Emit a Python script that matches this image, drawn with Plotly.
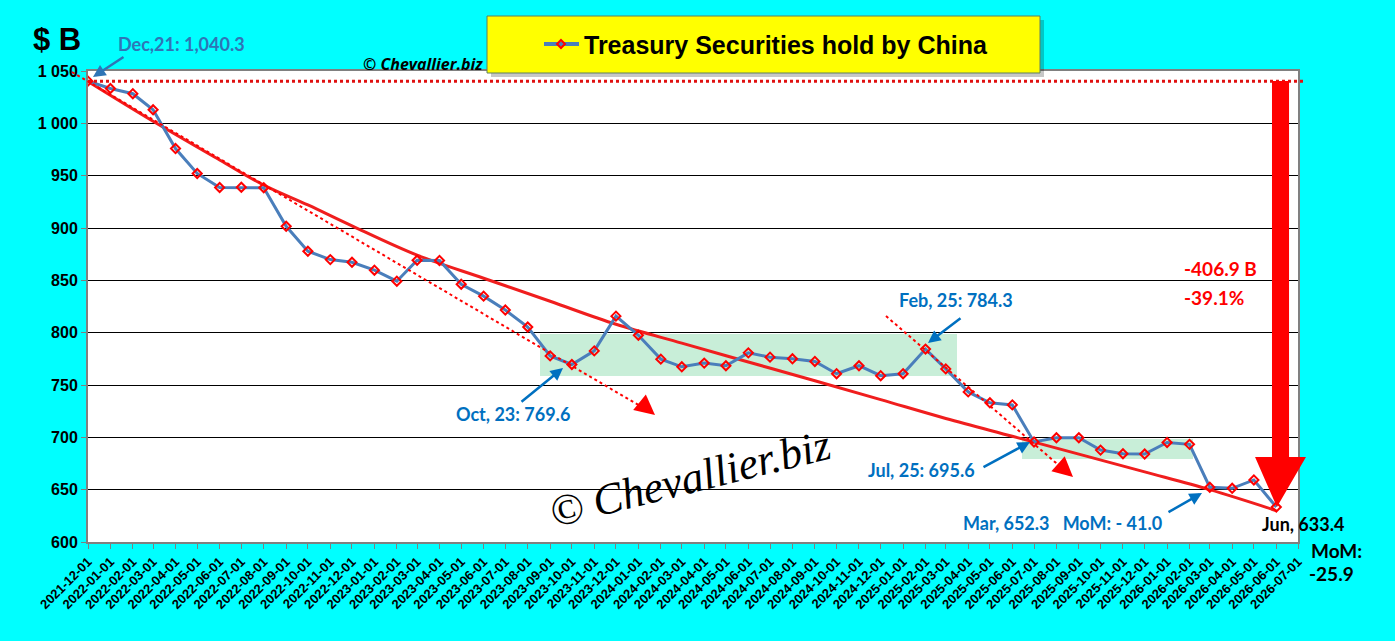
import numpy as np
import pandas as pd
import plotly.graph_objects as go

# --- data ($ B, month start) ---
MONTHS = pd.date_range("2021-12-01", "2026-06-01", freq="MS").strftime("%Y-%m-%d").tolist()
TICK_MONTHS = pd.date_range("2021-12-01", "2026-07-01", freq="MS").strftime("%Y-%m-%d").tolist()
HOLDINGS = [
    1040.3, 1033.3, 1028.3, 1013.0, 975.9, 952.1, 938.7, 938.9, 938.5, 901.6,
    877.8, 869.8, 867.3, 859.7, 849.2, 869.2, 869.0, 846.3, 834.9, 821.6,
    805.4, 777.8, 769.6, 782.6, 815.8, 797.5, 774.7, 767.4, 770.9, 768.4,
    780.7, 776.6, 775.0, 772.5, 760.8, 768.4, 758.9, 760.8, 784.3, 765.4,
    743.4, 733.0, 731.0, 695.6, 699.6, 699.6, 687.8, 684.3, 684.0, 695.1,
    693.3, 652.3, 651.3, 659.3, 633.4,
]
# hand-drawn trend curve
TREND_MONTHS = [
    "2021-12-01", "2022-03-01", "2022-06-01", "2022-08-01", "2022-10-01",
    "2022-12-01", "2023-03-01", "2023-06-01", "2023-09-01", "2023-12-01",
    "2024-03-01", "2024-06-01", "2024-09-01", "2024-12-01", "2025-03-01",
    "2025-06-01", "2025-09-01", "2025-12-01", "2026-03-01", "2026-06-01",
]
TREND_VALUES = [1040, 1002, 965, 941, 922, 902, 874, 852, 830, 808,
                790, 772, 754, 736, 718, 701, 684, 667, 650, 630]
Y_TICKS = [600, 650, 700, 750, 800, 850, 900, 950, 1000, 1050]
Y_LABELS = ["600", "650", "700", "750", "800", "850", "900", "950", "1 000", "1 050"]

SERIES_NAME = "Treasury Securities hold by China"
LINE_BLUE = "#4A7EBB"
LABEL_BLUE = "#0070C0"
RED = "#FF0000"

# plot box on the 1395x641 canvas
W, H = 1395, 641
L, R, T, B = 88, 1298, 71, 542


def px(x):
    return (x - L) / (R - L)


def py(y):
    return (B - y) / (B - T)


def path(points):
    return "M " + " L ".join(f"{px(x):.4f},{py(y):.4f}" for x, y in points) + " Z"


def label(text, x, y, color, size=18, family="Lato", style="normal", anchor="center", **kw):
    return dict(text=text, x=px(x), y=py(y), xref="paper", yref="paper",
                showarrow=False, xanchor=anchor, yanchor="middle",
                font=dict(family=family, size=size, color=color, weight="bold", style=style), **kw)


def arrow(x0, y0, x1, y1, color, width=2.5, size=1.0):
    return dict(text="", x=px(x1), y=py(y1), xref="paper", yref="paper",
                ax=x0 - x1, ay=y0 - y1, axref="pixel", ayref="pixel",
                showarrow=True, arrowhead=2, arrowsize=size, arrowwidth=width,
                arrowcolor=color)


fig = go.Figure()

fig.add_trace(go.Scatter(
    x=TREND_MONTHS, y=TREND_VALUES, mode="lines", line_shape="spline",
    line=dict(color="#F01E1E", width=3), showlegend=False, hoverinfo="skip"))

fig.add_trace(go.Scatter(
    x=MONTHS, y=HOLDINGS, mode="lines+markers", name=SERIES_NAME,
    line=dict(color=LINE_BLUE, width=3), showlegend=False,
    marker=dict(symbol="diamond-open", size=7, color=RED, line=dict(width=2))))

shapes = [
    # consolidation zones
    dict(type="rect", xref="paper", yref="paper", layer="below",
         x0=px(540), x1=px(957), y0=py(376), y1=py(334),
         fillcolor="#C8EED8", line_width=0),
    dict(type="rect", xref="paper", yref="paper", layer="below",
         x0=px(1022), x1=px(1193), y0=py(459), y1=py(439),
         fillcolor="#C8EED8", line_width=0),
    # reference level at the Dec-21 value
    dict(type="line", xref="paper", yref="y", x0=0, x1=px(1306),
         y0=HOLDINGS[0], y1=HOLDINGS[0], line=dict(color="#E01010", width=3, dash="dot")),
    # dotted trend arrows
    dict(type="line", xref="paper", yref="paper", x0=px(72), y0=py(72), x1=px(652), y1=py(413),
         line=dict(color=RED, width=2, dash="dot")),
    dict(type="line", xref="paper", yref="paper", x0=px(886), y0=py(316), x1=px(1070), y1=py(475),
         line=dict(color=RED, width=2, dash="dot")),
    # big red drop arrow
    dict(type="path", xref="paper", yref="paper", fillcolor=RED, line_width=0,
         path=path([(1272, 81), (1289, 81), (1289, 457), (1306, 457),
                    (1277, 507), (1255, 457), (1272, 457)])),
    # title box with shadow
    dict(type="rect", xref="paper", yref="paper", x0=px(491), x1=px(1044), y0=py(77), y1=py(20),
         fillcolor="rgba(0,0,0,0.22)", line_width=0),
    dict(type="rect", xref="paper", yref="paper", x0=px(487), x1=px(1040), y0=py(73), y1=py(16),
         fillcolor="#FFFF00", line=dict(color="#5E7F5E", width=1)),
    # series key inside the title box
    dict(type="line", xref="paper", yref="paper", x0=px(544), x1=px(579), y0=py(44), y1=py(44),
         line=dict(color=LINE_BLUE, width=4)),
    dict(type="path", xref="paper", yref="paper", line=dict(color=RED, width=2),
         path=path([(561, 40), (565, 44), (561, 48), (557, 44)])),
]

annotations = [
    label("$ B", 57, 39, "black", size=31, family="Liberation Sans"),
    label("Dec,21: 1,040.3", 181, 44, "#2E75B6"),
    label("© Chevallier.biz", 423, 64, "black", size=16, family="Open Sans", style="italic"),
    label(SERIES_NAME, 582, 45, "black", size=25, family="Liberation Sans", anchor="left"),
    label("Feb, 25: 784.3", 956, 300, LABEL_BLUE),
    label("Oct, 23: 769.6", 513, 414, LABEL_BLUE),
    label("Jul, 25: 695.6", 921, 470, LABEL_BLUE),
    label("Mar, 652.3\u00a0\u00a0\u00a0MoM: - 41.0", 1062, 523, LABEL_BLUE),
    label("-406.9 B", 1220, 268, RED, size=19),
    label("-39.1%", 1214, 297, RED, size=19),
    label("Jun, 633.4", 1303, 524, "black"),
    label("MoM:", 1336, 550, "black", size=19),
    label("-25.9", 1331, 573, "black", size=19),
    arrow(125, 56, 93, 77, "#2E75B6"),
    arrow(520, 403, 563, 368, LABEL_BLUE),
    arrow(962, 317, 928, 343, LABEL_BLUE),
    arrow(982, 468, 1030, 442, LABEL_BLUE),
    arrow(1167, 513, 1202, 493, LABEL_BLUE),
    arrow(644, 406, 655, 415, RED, width=2, size=2),
    arrow(1064, 469, 1073, 477, RED, width=2, size=2),
    # watermark
    dict(text="© Chevallier.biz", x=px(690), y=py(478), xref="paper", yref="paper",
         xanchor="center", yanchor="middle", showarrow=False, textangle=-14,
         font=dict(family="Liberation Serif", size=44, color="black", style="italic")),
]

fig.update_layout(
    width=W, height=H, autosize=False,
    margin=dict(l=L, r=W - R, t=T, b=H - B),
    paper_bgcolor="#00FFFF", plot_bgcolor="white",
    shapes=shapes, annotations=annotations,
    showlegend=False,
    hovermode=False,
)

fig.update_xaxes(
    type="date", range=[TICK_MONTHS[0], TICK_MONTHS[-1]], automargin=False,
    tickvals=TICK_MONTHS, tickformat="%Y-%m-%d", tickangle=-45,
    tickfont=dict(family="Liberation Sans", size=13, color="black", weight="bold"),
    ticks="outside", ticklen=5, tickcolor="#808080",
    showgrid=False, showline=True, linecolor="#808080", linewidth=2, mirror=True,
)
fig.update_yaxes(
    range=[600, 1050], tickvals=Y_TICKS, ticktext=Y_LABELS, automargin=False,
    tickfont=dict(family="Liberation Sans", size=16, color="black", weight="bold"),
    ticks="outside", ticklen=5, tickcolor="#808080",
    showgrid=True, gridcolor="black", gridwidth=1, zeroline=False,
    showline=True, linecolor="#808080", linewidth=2, mirror=True,
)

# drop the browser's default 8px body margin so the chart sits flush
fig.write_html("out.html", config={"displayModeBar": False},
               post_script="document.body.style.margin='0';"
                           "document.body.style.overflow='hidden';")
